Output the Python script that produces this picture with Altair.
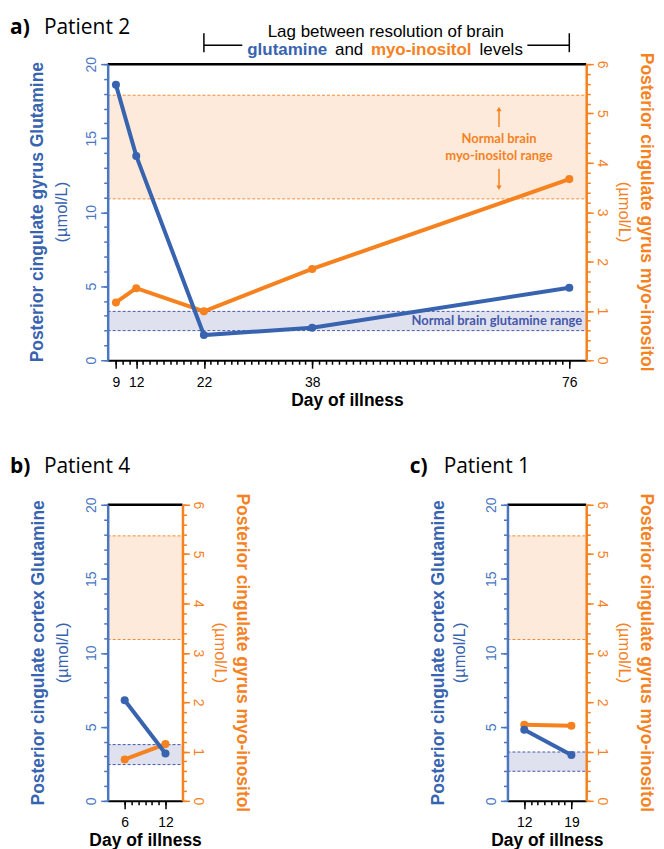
import altair as alt
import pandas as pd

# ---------------- data ----------------
a_days = [9, 12, 22, 38, 76]
a_glut = [18.6, 13.8, 1.7, 2.2, 4.9]
a_myo = [1.17, 1.46, 0.99, 1.85, 3.67]

b_days = [6, 12]
b_glut = [6.8, 3.2]
b_myo = [0.84, 1.15]

c_days = [12, 19]
c_glut = [4.8, 3.1]
c_myo = [1.54, 1.52]

glut_range_a = [2.0, 3.3]
glut_range_b = [2.45, 3.8]
glut_range_c = [2.0, 3.3]
myo_range = [3.27, 5.37]

glut_ticks = [0, 5, 10, 15, 20]
myo_ticks = [0, 1, 2, 3, 4, 5, 6]
a_xticks = [9, 12, 22, 38, 76]
b_xticks = [6, 12]
c_xticks = [12, 19]
lag_days = [22, 76]

# ---------------- style ----------------
BLUE = "#3763AF"
BLUE_AX = "#4A76C2"
BLUE_BAND = "#DFE1EF"
BLUE_DASH = "#4457AA"
ORANGE = "#F5821F"
OR_BAND = "#FDEADB"
OR_DASH = "#F58A33"
FONT = "Liberation Sans"
HFONT = "Open Sans"
NFONT = "Lato"
H = 297


def one():
    return pd.DataFrame({"k": [0]})


def txt(text, x, y, size, color="black", weight="normal", angle=None,
        align="center", baseline="middle", font=FONT):
    m = dict(text=text, fontSize=size, color=color, fontWeight=weight,
             align=align, baseline=baseline, font=font)
    if angle is not None:
        m["angle"] = angle
    return alt.Chart(one()).mark_text(**m).encode(x=alt.value(x), y=alt.value(y))


def panel(days, glut, myo, grange, xdom, W, xticks, letter, name,
          ltitle, rtitle, lpos, rpos, hdr_y, box, extras=None):
    df = pd.DataFrame({"day": days, "glut": glut, "myo": myo})
    xsc = alt.Scale(domain=xdom, nice=False, zero=False)
    gsc = alt.Scale(domain=[0, 20], nice=False, zero=False)
    msc = alt.Scale(domain=[0, 6], nice=False, zero=False)
    minor_x = list(range(xticks[0], xticks[-1] + 1))

    g_minor = alt.Axis(orient="left", values=list(range(0, 21)), tickSize=4,
                       tickWidth=1.5, tickColor=BLUE_AX, labels=False,
                       domain=False, grid=False, title=None, zindex=1)
    m_minor = alt.Axis(orient="right", values=[round(i * 0.2, 1) for i in range(31)],
                       tickSize=4, tickWidth=1.5, tickColor=ORANGE, labels=False,
                       domain=False, grid=False, title=None, zindex=1)
    g_major = alt.Axis(orient="left", values=glut_ticks, tickSize=7, tickWidth=1.5,
                       tickColor=BLUE_AX, domainColor=BLUE_AX, domainWidth=2.5,
                       labelAngle=270, labelAlign="center", labelBaseline="alphabetic",
                       labelPadding=5, labelColor=BLUE_AX, labelFont=FONT,
                       labelFontSize=14, grid=False, title=None, zindex=2)
    m_major = alt.Axis(orient="right", values=myo_ticks, tickSize=7, tickWidth=1.5,
                       tickColor=ORANGE, domainColor=ORANGE, domainWidth=2.5,
                       labelAngle=90, labelAlign="center", labelBaseline="alphabetic",
                       labelPadding=4, labelColor=ORANGE, labelFont=FONT,
                       labelFontSize=14, grid=False, title=None, zindex=2)
    x_minor = alt.Axis(orient="bottom", values=minor_x, tickSize=4, tickWidth=1.5,
                       tickColor="black", labels=False, domain=False, grid=False,
                       title=None, zindex=1)
    x_major = alt.Axis(orient="bottom", values=xticks, tickSize=8, tickWidth=1.5,
                       tickColor="black", domainColor="black", domainWidth=2,
                       labelFont=FONT, labelFontSize=14, labelColor="black",
                       labelPadding=7, labelFlush=False, labelOverlap=False,
                       grid=False, title="Day of illness", titleFont=FONT,
                       titleFontSize=17.5, titleFontWeight="bold", titleColor="black",
                       titlePadding=2, zindex=2)

    gr = pd.DataFrame({"lo": [grange[0]], "hi": [grange[1]]})
    grl = pd.DataFrame({"v": grange})
    mr = pd.DataFrame({"lo": [myo_range[0]], "hi": [myo_range[1]]})
    mrl = pd.DataFrame({"v": myo_range})
    base = alt.Chart(df)

    layers = [
        # invisible frame that fixes the panel's outer extent
        alt.Chart(one()).mark_rect(opacity=0).encode(
            x=alt.value(box[0]), x2=alt.value(W + box[1]),
            y=alt.value(box[2]), y2=alt.value(H + box[3])),
        alt.Chart(gr).mark_rect(color=BLUE_BAND).encode(
            x=alt.value(0), x2=alt.value(W),
            y=alt.Y("lo:Q", scale=gsc, axis=None), y2="hi:Q"),
        alt.Chart(grl).mark_rule(color=BLUE_DASH, strokeDash=[3, 2], strokeWidth=1).encode(
            x=alt.value(0), x2=alt.value(W),
            y=alt.Y("v:Q", scale=gsc, axis=None)),
        alt.Chart(mr).mark_rect(color=OR_BAND).encode(
            x=alt.value(0), x2=alt.value(W),
            y=alt.Y("lo:Q", scale=msc, axis=None), y2="hi:Q"),
        alt.Chart(mrl).mark_rule(color=OR_DASH, strokeDash=[3, 2], strokeWidth=1).encode(
            x=alt.value(0), x2=alt.value(W),
            y=alt.Y("v:Q", scale=msc, axis=None)),
        base.mark_line(color=ORANGE, strokeWidth=4).encode(
            x=alt.X("day:Q", scale=xsc, axis=x_minor),
            y=alt.Y("myo:Q", scale=msc, axis=m_major)),
        base.mark_circle(color=ORANGE, size=65, opacity=1).encode(
            x=alt.X("day:Q", scale=xsc, axis=None),
            y=alt.Y("myo:Q", scale=msc, axis=m_minor)),
        base.mark_line(color=BLUE, strokeWidth=4).encode(
            x=alt.X("day:Q", scale=xsc, axis=x_major),
            y=alt.Y("glut:Q", scale=gsc, axis=g_major)),
        base.mark_circle(color=BLUE, size=65, opacity=1).encode(
            x=alt.X("day:Q", scale=xsc, axis=None),
            y=alt.Y("glut:Q", scale=gsc, axis=g_minor)),
        alt.Chart(one()).mark_rule(color="black", strokeWidth=2.5).encode(
            x=alt.value(0), x2=alt.value(W), y=alt.value(0)),
        txt(letter, -98, hdr_y, 21, weight="bold", align="left",
            baseline="alphabetic", font=HFONT),
        txt(name, -64, hdr_y, 21, align="left", baseline="alphabetic", font=HFONT),
        txt(ltitle, lpos[0], H / 2, 17.5, color=BLUE, weight="bold", angle=270),
        txt("(\u00b5mol/L)", lpos[1], H / 2, 16.5, color=BLUE, angle=270),
        txt(rtitle, W + rpos[1], H / 2, 17.5, color=ORANGE, weight="bold", angle=90),
        txt("(\u00b5mol/L)", W + rpos[0], H / 2, 16.5, color=ORANGE, angle=90),
    ]
    if extras is not None:
        layers += extras(xsc, W)
    layers = [l.properties(width=W, height=H) for l in layers]
    return alt.layer(*layers).resolve_scale(y="independent").resolve_axis(
        x="independent")


def extras_a(xsc, W):
    lag = pd.DataFrame({"d": lag_days})
    d0 = pd.DataFrame({"d": [lag_days[0]]})
    d1 = pd.DataFrame({"d": [lag_days[1]]})
    out = [
        alt.Chart(lag).mark_rule(color="black", strokeWidth=1.5).encode(
            x=alt.X("d:Q", scale=xsc, axis=None), y=alt.value(-31), y2=alt.value(-12)),
        alt.Chart(d0).mark_rule(color="black", strokeWidth=1.5).encode(
            x=alt.X("d:Q", scale=xsc, axis=None), x2=alt.value(135), y=alt.value(-19)),
        alt.Chart(d1).mark_rule(color="black", strokeWidth=1.5).encode(
            x=alt.X("d:Q", scale=xsc, axis=None), x2=alt.value(421), y=alt.value(-19)),
        txt("Lag between resolution of brain", 279, -27, 17, baseline="alphabetic"),
        txt("glutamine", 140, -9, 17, color=BLUE, weight="bold", align="left",
            baseline="alphabetic"),
        txt("and", 228, -9, 17, align="left", baseline="alphabetic"),
        txt("myo-inositol", 264, -9, 17, color=ORANGE, weight="bold", align="left",
            baseline="alphabetic"),
        txt("levels", 373, -9, 17, align="left", baseline="alphabetic"),
        txt("Normal brain", 392.5, 75.5, 13, color=ORANGE, weight="bold", font=NFONT),
        txt("myo-inositol range", 392.5, 92.5, 13, color=ORANGE, weight="bold", font=NFONT),
        alt.Chart(one()).mark_rule(color=ORANGE, strokeWidth=1.5).encode(
            x=alt.value(392.5), y=alt.value(46), y2=alt.value(63)),
        alt.Chart(one()).mark_point(shape="triangle-up", filled=True, size=28,
                                    color=ORANGE, opacity=1).encode(
            x=alt.value(392.5), y=alt.value(45)),
        alt.Chart(one()).mark_rule(color=ORANGE, strokeWidth=1.5).encode(
            x=alt.value(392.5), y=alt.value(105), y2=alt.value(123)),
        alt.Chart(one()).mark_point(shape="triangle-down", filled=True, size=28,
                                    color=ORANGE, opacity=1).encode(
            x=alt.value(392.5), y=alt.value(124)),
        txt("Normal brain glutamine range", 476, 257.5, 13, color=BLUE_DASH,
            weight="bold", align="right", font=NFONT),
    ]
    return out


pa = panel(a_days, a_glut, a_myo, glut_range_a, [7.78, 78.5], 480, a_xticks,
           "a)", "Patient 2", "Posterior cingulate gyrus Glutamine",
           "Posterior cingulate gyrus myo-inositol", (-70, -46), (38, 60),
           -30, (-99, 69, -53.7, 62), extras_a)
pb = panel(b_days, b_glut, b_myo, glut_range_b, [3.5, 14.5], 75, b_xticks,
           "b)", "Patient 4", "Posterior cingulate cortex Glutamine",
           "Posterior cingulate gyrus myo-inositol", (-68.5, -45), (38, 60),
           -32, (-99, 69, -50, 52))
pc = panel(c_days, c_glut, c_myo, glut_range_c, [9.5, 21.2], 79, c_xticks,
           "c)", "Patient 1", "Posterior cingulate cortex Glutamine",
           "Posterior cingulate gyrus myo-inositol", (-69, -47.5), (38, 60),
           -32, (-99, 69, -50, 52))

chart = alt.vconcat(pa, alt.hconcat(pb, pc, spacing=156), spacing=31).configure_view(
    stroke=None).configure(background="white", padding=0)

chart.save("out.html", embed_options={"renderer": "svg", "actions": False})
